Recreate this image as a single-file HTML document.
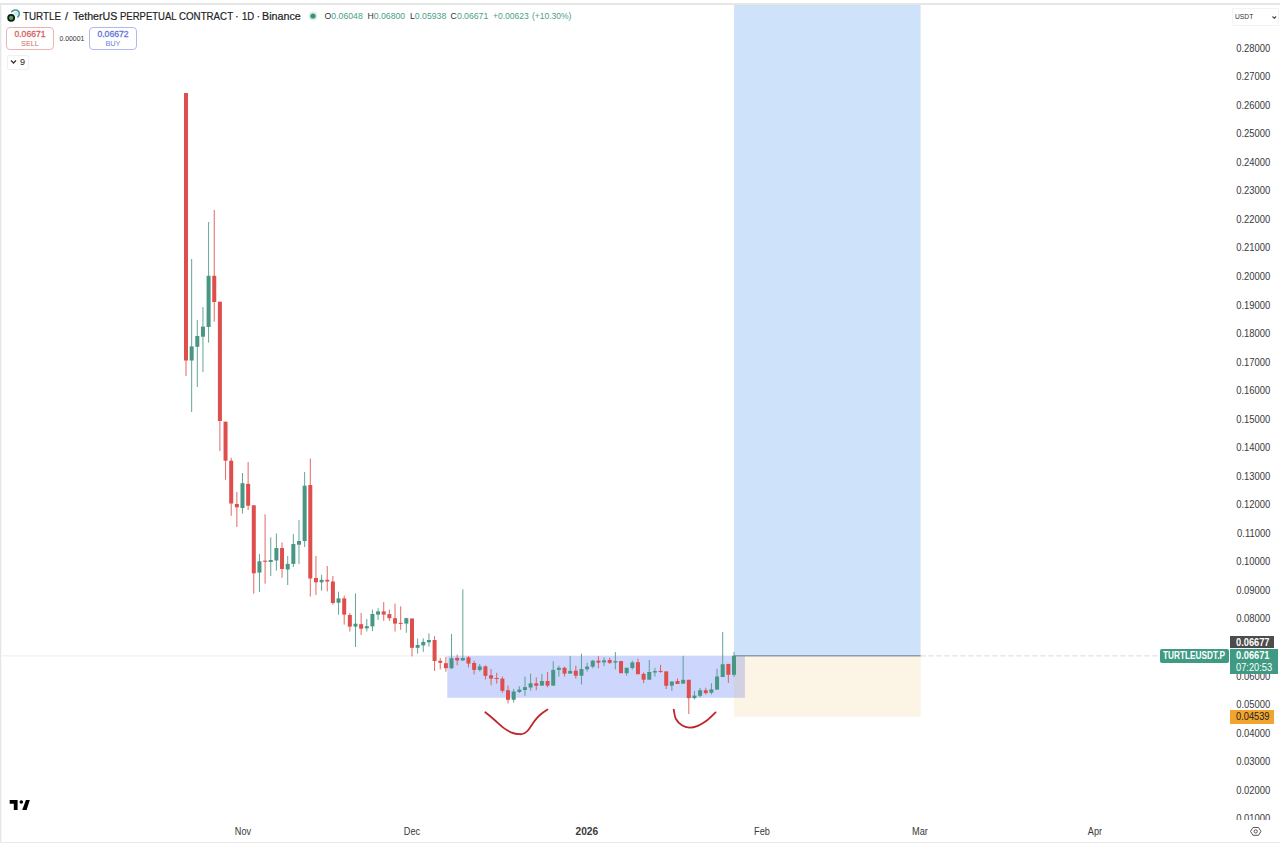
<!DOCTYPE html>
<html><head><meta charset="utf-8">
<style>
html,body{margin:0;padding:0;background:#fff;}
body{width:1280px;height:844px;overflow:hidden;position:relative;font-family:"Liberation Sans",sans-serif;color:#131722;}
.abs{position:absolute;}
#topline{position:absolute;left:0;top:3px;width:1280px;height:2px;background:#e6e6e6;}
#leftline{position:absolute;left:0;top:5px;width:2px;height:838px;background:linear-gradient(to right,#e6e6e6 50%,#f7f7f7 50%);}
#botline{position:absolute;left:0;top:842px;width:1280px;height:1px;background:#ebebeb;}
#chart{position:absolute;left:0;top:0;}
#paxis{position:absolute;left:1225px;top:0;width:55px;height:820px;overflow:hidden;}
.pl{position:absolute;right:10px;font-size:10.3px;line-height:12px;color:#3a3a3a;white-space:nowrap;transform:scaleX(0.915);transform-origin:100% 0;}
.tl{position:absolute;top:826px;font-size:10.2px;line-height:12px;color:#3a3a3a;white-space:nowrap;transform:translateX(-50%) scaleX(0.9);}
.tw{position:absolute;top:9px;font-size:11px;line-height:14px;color:#222;-webkit-text-stroke:0.2px #222;white-space:nowrap;transform-origin:0 0;}
.oh{position:absolute;top:10px;font-size:8.7px;line-height:12px;color:#4a9e8c;white-space:nowrap;}
.oh b{font-weight:normal;color:#333;}
.box{position:absolute;top:27.2px;height:22.8px;border:1px solid;border-radius:4px;text-align:center;font-size:8.5px;line-height:9.5px;box-sizing:border-box;padding-top:1px;}
.lbl{position:absolute;color:#fff;font-size:10.3px;line-height:12px;box-sizing:border-box;padding-left:0;}
.lbl span{display:block;margin-left:6px;transform:scaleX(0.9);transform-origin:0 0;white-space:nowrap;}
</style></head><body>
<svg id="chart" width="1280" height="844" viewBox="0 0 1280 844">
<!-- dashed price line -->
<line x1="0" y1="655.9" x2="734" y2="655.9" stroke="#eceeee" stroke-width="1"/>
<line x1="920" y1="655.9" x2="1160" y2="655.9" stroke="#dadede" stroke-width="1" stroke-dasharray="6 2"/>
<!-- long position -->
<rect x="734" y="5" width="186.6" height="650.6" fill="#cee3f9"/>
<!-- range box -->
<rect x="447.3" y="655.9" width="297.6" height="41.9" fill="#cdd6fc"/>
<rect x="734" y="655.6" width="186.6" height="61" fill="rgb(232,180,78)" fill-opacity="0.15"/>
<line x1="734" y1="655.8" x2="920.6" y2="655.8" stroke="#8b9dab" stroke-width="1.4"/>
<rect x="185.50" y="93.00" width="1" height="283.00" fill="#de4e4c" fill-opacity="0.85"/>
<rect x="184.00" y="93.00" width="4.0" height="267.50" fill="#de4e4c"/>
<rect x="191.15" y="259.00" width="1" height="153.00" fill="#489684" fill-opacity="0.85"/>
<rect x="189.65" y="346.40" width="4.0" height="14.10" fill="#489684"/>
<rect x="196.80" y="320.00" width="1" height="67.00" fill="#489684" fill-opacity="0.85"/>
<rect x="195.30" y="336.00" width="4.0" height="10.80" fill="#489684"/>
<rect x="202.45" y="307.00" width="1" height="65.00" fill="#489684" fill-opacity="0.85"/>
<rect x="200.95" y="326.60" width="4.0" height="10.10" fill="#489684"/>
<rect x="208.10" y="222.00" width="1" height="120.70" fill="#489684" fill-opacity="0.85"/>
<rect x="206.60" y="275.80" width="4.0" height="51.20" fill="#489684"/>
<rect x="213.75" y="210.00" width="1" height="111.60" fill="#de4e4c" fill-opacity="0.85"/>
<rect x="212.25" y="275.80" width="4.0" height="26.20" fill="#de4e4c"/>
<rect x="219.40" y="301.70" width="1" height="149.30" fill="#de4e4c" fill-opacity="0.85"/>
<rect x="217.90" y="301.70" width="4.0" height="119.30" fill="#de4e4c"/>
<rect x="225.05" y="421.70" width="1" height="58.10" fill="#de4e4c" fill-opacity="0.85"/>
<rect x="223.55" y="421.70" width="4.0" height="39.00" fill="#de4e4c"/>
<rect x="230.70" y="457.70" width="1" height="58.10" fill="#de4e4c" fill-opacity="0.85"/>
<rect x="229.20" y="460.70" width="4.0" height="42.80" fill="#de4e4c"/>
<rect x="236.35" y="492.00" width="1" height="35.00" fill="#de4e4c" fill-opacity="0.85"/>
<rect x="234.85" y="504.00" width="4.0" height="3.30" fill="#de4e4c"/>
<rect x="241.99" y="473.00" width="1" height="40.60" fill="#489684" fill-opacity="0.85"/>
<rect x="240.49" y="483.20" width="4.0" height="24.80" fill="#489684"/>
<rect x="247.64" y="462.00" width="1" height="48.00" fill="#de4e4c" fill-opacity="0.85"/>
<rect x="246.14" y="483.90" width="4.0" height="21.80" fill="#de4e4c"/>
<rect x="253.29" y="505.30" width="1" height="88.30" fill="#de4e4c" fill-opacity="0.85"/>
<rect x="251.79" y="505.30" width="4.0" height="68.00" fill="#de4e4c"/>
<rect x="258.94" y="554.00" width="1" height="38.00" fill="#489684" fill-opacity="0.85"/>
<rect x="257.44" y="561.30" width="4.0" height="11.30" fill="#489684"/>
<rect x="264.59" y="514.30" width="1" height="69.40" fill="#de4e4c" fill-opacity="0.85"/>
<rect x="263.09" y="560.70" width="4.0" height="1.10" fill="#de4e4c"/>
<rect x="270.24" y="537.30" width="1" height="38.70" fill="#489684" fill-opacity="0.85"/>
<rect x="268.74" y="560.00" width="4.0" height="2.00" fill="#489684"/>
<rect x="275.89" y="533.50" width="1" height="37.10" fill="#489684" fill-opacity="0.85"/>
<rect x="274.39" y="548.00" width="4.0" height="12.50" fill="#489684"/>
<rect x="281.54" y="542.50" width="1" height="35.30" fill="#de4e4c" fill-opacity="0.85"/>
<rect x="280.04" y="548.00" width="4.0" height="21.00" fill="#de4e4c"/>
<rect x="287.19" y="556.00" width="1" height="29.00" fill="#489684" fill-opacity="0.85"/>
<rect x="285.69" y="563.90" width="4.0" height="5.60" fill="#489684"/>
<rect x="292.84" y="534.00" width="1" height="33.00" fill="#489684" fill-opacity="0.85"/>
<rect x="291.34" y="544.00" width="4.0" height="19.90" fill="#489684"/>
<rect x="298.49" y="520.00" width="1" height="44.00" fill="#489684" fill-opacity="0.85"/>
<rect x="296.99" y="541.00" width="4.0" height="3.70" fill="#489684"/>
<rect x="304.14" y="472.00" width="1" height="75.00" fill="#489684" fill-opacity="0.85"/>
<rect x="302.64" y="485.70" width="4.0" height="55.30" fill="#489684"/>
<rect x="309.79" y="458.50" width="1" height="138.00" fill="#de4e4c" fill-opacity="0.85"/>
<rect x="308.29" y="485.00" width="4.0" height="93.50" fill="#de4e4c"/>
<rect x="315.44" y="556.00" width="1" height="39.00" fill="#de4e4c" fill-opacity="0.85"/>
<rect x="313.94" y="578.00" width="4.0" height="4.30" fill="#de4e4c"/>
<rect x="321.09" y="574.80" width="1" height="15.80" fill="#489684" fill-opacity="0.85"/>
<rect x="319.59" y="579.80" width="4.0" height="2.50" fill="#489684"/>
<rect x="326.74" y="566.00" width="1" height="25.40" fill="#de4e4c" fill-opacity="0.85"/>
<rect x="325.24" y="579.80" width="4.0" height="1.70" fill="#de4e4c"/>
<rect x="332.39" y="576.00" width="1" height="28.70" fill="#de4e4c" fill-opacity="0.85"/>
<rect x="330.89" y="581.50" width="4.0" height="21.50" fill="#de4e4c"/>
<rect x="338.04" y="591.70" width="1" height="22.90" fill="#489684" fill-opacity="0.85"/>
<rect x="336.54" y="598.40" width="4.0" height="4.30" fill="#489684"/>
<rect x="343.69" y="595.50" width="1" height="29.10" fill="#de4e4c" fill-opacity="0.85"/>
<rect x="342.19" y="598.40" width="4.0" height="16.20" fill="#de4e4c"/>
<rect x="349.34" y="613.00" width="1" height="18.50" fill="#de4e4c" fill-opacity="0.85"/>
<rect x="347.84" y="615.00" width="4.0" height="11.60" fill="#de4e4c"/>
<rect x="354.98" y="593.40" width="1" height="53.60" fill="#489684" fill-opacity="0.85"/>
<rect x="353.48" y="623.70" width="4.0" height="2.90" fill="#489684"/>
<rect x="360.63" y="613.00" width="1" height="21.90" fill="#de4e4c" fill-opacity="0.85"/>
<rect x="359.13" y="624.20" width="4.0" height="4.50" fill="#de4e4c"/>
<rect x="366.28" y="619.00" width="1" height="12.50" fill="#489684" fill-opacity="0.85"/>
<rect x="364.78" y="626.20" width="4.0" height="2.10" fill="#489684"/>
<rect x="371.93" y="609.60" width="1" height="21.60" fill="#489684" fill-opacity="0.85"/>
<rect x="370.43" y="614.00" width="4.0" height="12.40" fill="#489684"/>
<rect x="377.58" y="608.20" width="1" height="11.80" fill="#489684" fill-opacity="0.85"/>
<rect x="376.08" y="611.40" width="4.0" height="3.20" fill="#489684"/>
<rect x="383.23" y="602.00" width="1" height="18.90" fill="#de4e4c" fill-opacity="0.85"/>
<rect x="381.73" y="611.40" width="4.0" height="3.20" fill="#de4e4c"/>
<rect x="388.88" y="609.60" width="1" height="11.30" fill="#de4e4c" fill-opacity="0.85"/>
<rect x="387.38" y="614.10" width="4.0" height="4.10" fill="#de4e4c"/>
<rect x="394.53" y="603.70" width="1" height="27.80" fill="#de4e4c" fill-opacity="0.85"/>
<rect x="393.03" y="618.20" width="4.0" height="5.40" fill="#de4e4c"/>
<rect x="400.18" y="606.30" width="1" height="23.50" fill="#de4e4c" fill-opacity="0.85"/>
<rect x="398.68" y="622.90" width="4.0" height="1.00" fill="#de4e4c"/>
<rect x="405.83" y="617.70" width="1" height="15.00" fill="#489684" fill-opacity="0.85"/>
<rect x="404.33" y="618.20" width="4.0" height="5.40" fill="#489684"/>
<rect x="411.48" y="618.50" width="1" height="37.90" fill="#de4e4c" fill-opacity="0.85"/>
<rect x="409.98" y="618.50" width="4.0" height="29.30" fill="#de4e4c"/>
<rect x="417.13" y="638.60" width="1" height="14.90" fill="#489684" fill-opacity="0.85"/>
<rect x="415.63" y="645.00" width="4.0" height="2.80" fill="#489684"/>
<rect x="422.78" y="638.30" width="1" height="13.50" fill="#489684" fill-opacity="0.85"/>
<rect x="421.28" y="641.90" width="4.0" height="3.50" fill="#489684"/>
<rect x="428.43" y="633.30" width="1" height="13.30" fill="#489684" fill-opacity="0.85"/>
<rect x="426.93" y="640.00" width="4.0" height="2.30" fill="#489684"/>
<rect x="434.08" y="636.20" width="1" height="34.80" fill="#de4e4c" fill-opacity="0.85"/>
<rect x="432.58" y="640.00" width="4.0" height="21.00" fill="#de4e4c"/>
<rect x="439.73" y="658.00" width="1" height="11.30" fill="#de4e4c" fill-opacity="0.85"/>
<rect x="438.23" y="660.80" width="4.0" height="2.00" fill="#de4e4c"/>
<rect x="445.38" y="656.80" width="1" height="14.90" fill="#de4e4c" fill-opacity="0.85"/>
<rect x="443.88" y="663.20" width="4.0" height="5.00" fill="#de4e4c"/>
<rect x="451.03" y="634.00" width="1" height="35.00" fill="#489684" fill-opacity="0.85"/>
<rect x="449.53" y="658.20" width="4.0" height="10.00" fill="#489684"/>
<rect x="456.68" y="654.70" width="1" height="10.60" fill="#de4e4c" fill-opacity="0.85"/>
<rect x="455.18" y="658.00" width="4.0" height="2.40" fill="#de4e4c"/>
<rect x="462.32" y="589.20" width="1" height="71.80" fill="#489684" fill-opacity="0.85"/>
<rect x="460.82" y="658.00" width="4.0" height="2.40" fill="#489684"/>
<rect x="467.97" y="656.20" width="1" height="11.20" fill="#de4e4c" fill-opacity="0.85"/>
<rect x="466.47" y="657.40" width="4.0" height="6.20" fill="#de4e4c"/>
<rect x="473.62" y="660.70" width="1" height="13.70" fill="#de4e4c" fill-opacity="0.85"/>
<rect x="472.12" y="663.00" width="4.0" height="6.90" fill="#de4e4c"/>
<rect x="479.27" y="664.00" width="1" height="7.50" fill="#489684" fill-opacity="0.85"/>
<rect x="477.77" y="666.40" width="4.0" height="3.50" fill="#489684"/>
<rect x="484.92" y="665.30" width="1" height="14.10" fill="#de4e4c" fill-opacity="0.85"/>
<rect x="483.42" y="666.40" width="4.0" height="9.40" fill="#de4e4c"/>
<rect x="490.57" y="669.00" width="1" height="16.20" fill="#de4e4c" fill-opacity="0.85"/>
<rect x="489.07" y="675.30" width="4.0" height="3.30" fill="#de4e4c"/>
<rect x="496.22" y="672.80" width="1" height="10.80" fill="#de4e4c" fill-opacity="0.85"/>
<rect x="494.72" y="678.00" width="4.0" height="1.00" fill="#de4e4c"/>
<rect x="501.87" y="676.50" width="1" height="16.20" fill="#de4e4c" fill-opacity="0.85"/>
<rect x="500.37" y="678.60" width="4.0" height="12.20" fill="#de4e4c"/>
<rect x="507.52" y="685.60" width="1" height="17.90" fill="#de4e4c" fill-opacity="0.85"/>
<rect x="506.02" y="690.20" width="4.0" height="9.60" fill="#de4e4c"/>
<rect x="513.17" y="688.80" width="1" height="13.90" fill="#489684" fill-opacity="0.85"/>
<rect x="511.67" y="691.50" width="4.0" height="8.30" fill="#489684"/>
<rect x="518.82" y="686.30" width="1" height="6.70" fill="#489684" fill-opacity="0.85"/>
<rect x="517.32" y="689.60" width="4.0" height="2.30" fill="#489684"/>
<rect x="524.47" y="676.50" width="1" height="19.30" fill="#489684" fill-opacity="0.85"/>
<rect x="522.97" y="687.10" width="4.0" height="2.90" fill="#489684"/>
<rect x="530.12" y="673.60" width="1" height="17.20" fill="#489684" fill-opacity="0.85"/>
<rect x="528.62" y="683.30" width="4.0" height="4.20" fill="#489684"/>
<rect x="535.77" y="677.30" width="1" height="12.90" fill="#de4e4c" fill-opacity="0.85"/>
<rect x="534.27" y="683.30" width="4.0" height="2.50" fill="#de4e4c"/>
<rect x="541.42" y="673.90" width="1" height="11.70" fill="#489684" fill-opacity="0.85"/>
<rect x="539.92" y="681.00" width="4.0" height="4.60" fill="#489684"/>
<rect x="547.07" y="672.00" width="1" height="15.30" fill="#de4e4c" fill-opacity="0.85"/>
<rect x="545.57" y="681.00" width="4.0" height="4.60" fill="#de4e4c"/>
<rect x="552.72" y="661.20" width="1" height="24.40" fill="#489684" fill-opacity="0.85"/>
<rect x="551.22" y="669.90" width="4.0" height="15.70" fill="#489684"/>
<rect x="558.37" y="665.70" width="1" height="10.80" fill="#489684" fill-opacity="0.85"/>
<rect x="556.87" y="667.80" width="4.0" height="2.10" fill="#489684"/>
<rect x="564.02" y="666.60" width="1" height="9.90" fill="#de4e4c" fill-opacity="0.85"/>
<rect x="562.52" y="667.80" width="4.0" height="5.80" fill="#de4e4c"/>
<rect x="569.66" y="656.20" width="1" height="17.40" fill="#489684" fill-opacity="0.85"/>
<rect x="568.16" y="670.90" width="4.0" height="2.70" fill="#489684"/>
<rect x="575.31" y="665.70" width="1" height="12.90" fill="#de4e4c" fill-opacity="0.85"/>
<rect x="573.81" y="670.70" width="4.0" height="5.00" fill="#de4e4c"/>
<rect x="580.96" y="653.70" width="1" height="30.70" fill="#489684" fill-opacity="0.85"/>
<rect x="579.46" y="669.00" width="4.0" height="6.70" fill="#489684"/>
<rect x="586.61" y="662.80" width="1" height="8.70" fill="#489684" fill-opacity="0.85"/>
<rect x="585.11" y="666.60" width="4.0" height="2.60" fill="#489684"/>
<rect x="592.26" y="660.00" width="1" height="8.20" fill="#489684" fill-opacity="0.85"/>
<rect x="590.76" y="660.70" width="4.0" height="6.00" fill="#489684"/>
<rect x="597.91" y="656.20" width="1" height="12.00" fill="#de4e4c" fill-opacity="0.85"/>
<rect x="596.41" y="660.70" width="4.0" height="1.90" fill="#de4e4c"/>
<rect x="603.56" y="657.40" width="1" height="8.70" fill="#489684" fill-opacity="0.85"/>
<rect x="602.06" y="660.30" width="4.0" height="2.10" fill="#489684"/>
<rect x="609.21" y="657.80" width="1" height="6.20" fill="#de4e4c" fill-opacity="0.85"/>
<rect x="607.71" y="660.00" width="4.0" height="2.80" fill="#de4e4c"/>
<rect x="614.86" y="652.00" width="1" height="17.50" fill="#489684" fill-opacity="0.85"/>
<rect x="613.36" y="661.20" width="4.0" height="1.40" fill="#489684"/>
<rect x="620.51" y="661.00" width="1" height="12.20" fill="#de4e4c" fill-opacity="0.85"/>
<rect x="619.01" y="661.00" width="4.0" height="12.20" fill="#de4e4c"/>
<rect x="626.16" y="667.80" width="1" height="7.90" fill="#489684" fill-opacity="0.85"/>
<rect x="624.66" y="667.80" width="4.0" height="5.40" fill="#489684"/>
<rect x="631.81" y="660.70" width="1" height="8.80" fill="#489684" fill-opacity="0.85"/>
<rect x="630.31" y="662.40" width="4.0" height="5.60" fill="#489684"/>
<rect x="637.46" y="658.70" width="1" height="15.50" fill="#de4e4c" fill-opacity="0.85"/>
<rect x="635.96" y="662.20" width="4.0" height="12.00" fill="#de4e4c"/>
<rect x="643.11" y="672.40" width="1" height="10.80" fill="#de4e4c" fill-opacity="0.85"/>
<rect x="641.61" y="673.90" width="4.0" height="5.80" fill="#de4e4c"/>
<rect x="648.76" y="660.00" width="1" height="19.70" fill="#489684" fill-opacity="0.85"/>
<rect x="647.26" y="672.00" width="4.0" height="7.70" fill="#489684"/>
<rect x="654.41" y="667.80" width="1" height="8.70" fill="#489684" fill-opacity="0.85"/>
<rect x="652.91" y="671.10" width="4.0" height="1.40" fill="#489684"/>
<rect x="660.06" y="664.90" width="1" height="7.90" fill="#de4e4c" fill-opacity="0.85"/>
<rect x="658.56" y="670.90" width="4.0" height="1.00" fill="#de4e4c"/>
<rect x="665.71" y="671.40" width="1" height="17.60" fill="#de4e4c" fill-opacity="0.85"/>
<rect x="664.21" y="671.40" width="4.0" height="14.40" fill="#de4e4c"/>
<rect x="671.36" y="681.50" width="1" height="9.30" fill="#489684" fill-opacity="0.85"/>
<rect x="669.86" y="681.50" width="4.0" height="4.10" fill="#489684"/>
<rect x="677.01" y="678.60" width="1" height="5.40" fill="#de4e4c" fill-opacity="0.85"/>
<rect x="675.51" y="681.00" width="4.0" height="3.00" fill="#de4e4c"/>
<rect x="682.65" y="655.80" width="1" height="27.80" fill="#489684" fill-opacity="0.85"/>
<rect x="681.15" y="679.80" width="4.0" height="3.80" fill="#489684"/>
<rect x="688.30" y="679.80" width="1" height="34.20" fill="#de4e4c" fill-opacity="0.85"/>
<rect x="686.80" y="679.80" width="4.0" height="18.30" fill="#de4e4c"/>
<rect x="693.95" y="691.00" width="1" height="8.30" fill="#489684" fill-opacity="0.85"/>
<rect x="692.45" y="695.60" width="4.0" height="2.50" fill="#489684"/>
<rect x="699.60" y="688.00" width="1" height="9.30" fill="#489684" fill-opacity="0.85"/>
<rect x="698.10" y="690.20" width="4.0" height="5.60" fill="#489684"/>
<rect x="705.25" y="687.70" width="1" height="6.70" fill="#de4e4c" fill-opacity="0.85"/>
<rect x="703.75" y="690.20" width="4.0" height="2.90" fill="#de4e4c"/>
<rect x="710.90" y="683.30" width="1" height="11.10" fill="#489684" fill-opacity="0.85"/>
<rect x="709.40" y="689.40" width="4.0" height="3.30" fill="#489684"/>
<rect x="716.55" y="668.80" width="1" height="20.80" fill="#489684" fill-opacity="0.85"/>
<rect x="715.05" y="676.50" width="4.0" height="13.10" fill="#489684"/>
<rect x="722.20" y="631.90" width="1" height="45.10" fill="#489684" fill-opacity="0.85"/>
<rect x="720.70" y="664.30" width="4.0" height="12.70" fill="#489684"/>
<rect x="727.85" y="663.90" width="1" height="19.00" fill="#de4e4c" fill-opacity="0.85"/>
<rect x="726.35" y="663.90" width="4.0" height="10.90" fill="#de4e4c"/>
<rect x="733.50" y="652.00" width="1" height="25.00" fill="#489684" fill-opacity="0.85"/>
<rect x="732.00" y="655.80" width="4.0" height="19.00" fill="#489684"/>
<!-- hand drawn curves -->
<path d="M485.3 712.3 C486.8 713.5 490.9 716.9 494.0 719.5 C497.1 722.1 500.8 725.8 503.6 727.9 C506.4 730.0 508.4 731.2 511.0 732.3 C513.6 733.3 517.2 734.1 519.5 734.2 C521.8 734.4 523.0 733.9 524.5 733.2 C526.0 732.5 526.8 731.9 528.5 729.8 C530.2 727.7 532.8 723.1 534.8 720.6 C536.8 718.1 538.4 716.3 540.5 714.5 C542.6 712.7 546.2 710.4 547.4 709.6" fill="none" stroke="#bf262b" stroke-width="1.8" stroke-linecap="round" stroke-linejoin="round"/>
<path d="M673.7 709.6 C674.1 711.1 674.4 716.1 675.8 718.7 C677.2 721.3 679.6 723.8 681.9 725.3 C684.2 726.8 686.8 727.5 689.4 727.6 C692.0 727.7 694.8 727.0 697.8 725.8 C700.8 724.6 704.2 722.4 707.2 720.2 C710.2 718.0 714.2 713.7 715.6 712.4" fill="none" stroke="#bf262b" stroke-width="1.8" stroke-linecap="round" stroke-linejoin="round"/>
<!-- TV logo -->
<g fill="#000">
<path d="M9.7 800 H17.6 V810 H13.8 V803.8 H9.7 Z"/>
<circle cx="21.3" cy="802" r="1.8"/>
<path d="M25.9 800 H29.8 L26.6 810 H22.2 Z"/>
</g>
<!-- gear -->
<g fill="none" stroke="#555" stroke-width="1">
<path d="M1253 827.5 H1258.5 L1261 831.4 L1258.5 835.3 H1253 L1250.5 831.4 Z"/>
<circle cx="1255.7" cy="831.4" r="1.6"/>
</g>
</svg>
<div id="topline"></div>
<div id="leftline"></div>
<div id="botline"></div>

<div id="paxis">
<div class="pl" style="top:813.19px">0.01000</div>
<div class="pl" style="top:784.65px">0.02000</div>
<div class="pl" style="top:756.12px">0.03000</div>
<div class="pl" style="top:727.58px">0.04000</div>
<div class="pl" style="top:699.05px">0.05000</div>
<div class="pl" style="top:670.51px">0.06000</div>
<div class="pl" style="top:613.44px">0.08000</div>
<div class="pl" style="top:584.91px">0.09000</div>
<div class="pl" style="top:556.37px">0.10000</div>
<div class="pl" style="top:527.84px">0.11000</div>
<div class="pl" style="top:499.30px">0.12000</div>
<div class="pl" style="top:470.77px">0.13000</div>
<div class="pl" style="top:442.23px">0.14000</div>
<div class="pl" style="top:413.69px">0.15000</div>
<div class="pl" style="top:385.16px">0.16000</div>
<div class="pl" style="top:356.62px">0.17000</div>
<div class="pl" style="top:328.09px">0.18000</div>
<div class="pl" style="top:299.56px">0.19000</div>
<div class="pl" style="top:271.02px">0.20000</div>
<div class="pl" style="top:242.49px">0.21000</div>
<div class="pl" style="top:213.95px">0.22000</div>
<div class="pl" style="top:185.42px">0.23000</div>
<div class="pl" style="top:156.88px">0.24000</div>
<div class="pl" style="top:128.34px">0.25000</div>
<div class="pl" style="top:99.81px">0.26000</div>
<div class="pl" style="top:71.28px">0.27000</div>
<div class="pl" style="top:42.74px">0.28000</div>
</div>

<!-- time axis -->
<div class="tl" style="left:242.5px">Nov</div>
<div class="tl" style="left:411.7px">Dec</div>
<div class="tl" style="left:586.8px;font-weight:bold;transform:translateX(-50%)">2026</div>
<div class="tl" style="left:762px">Feb</div>
<div class="tl" style="left:920px">Mar</div>
<div class="tl" style="left:1095px">Apr</div>

<!-- header -->
<svg class="abs" style="left:6px;top:8px" width="16" height="16" viewBox="0 0 16 16">
<circle cx="10.2" cy="5.4" r="2" fill="#c4eeee"/>
<path d="M5.7 3.7 C 7.5 1.8, 10.6 1.4, 12.3 3.1 C 13.8 4.6, 13.6 7.2, 11.8 8.9" fill="none" stroke="#4b9a9c" stroke-width="1.6" stroke-linecap="round"/>
<circle cx="5.15" cy="9.85" r="3.9" fill="#0e1a10"/>
<circle cx="5.15" cy="9.85" r="2.2" fill="#5e9c5e"/>
</svg>
<div class="tw" style="left:23.2px;transform:scaleX(0.895)">TURTLE</div>
<div class="tw" style="left:64.9px;transform:scaleX(1.0)">/</div>
<div class="tw" style="left:72.5px;transform:scaleX(0.965)">TetherUS</div>
<div class="tw" style="left:120.0px;transform:scaleX(0.864)">PERPETUAL</div>
<div class="tw" style="left:179.2px;transform:scaleX(0.885)">CONTRACT</div>
<div class="tw" style="left:234.9px;transform:scaleX(1.0)">·</div>
<div class="tw" style="left:241.6px;transform:scaleX(0.87)">1D</div>
<div class="tw" style="left:256.6px;transform:scaleX(1.0)">·</div>
<div class="tw" style="left:261.9px;transform:scaleX(0.975)">Binance</div>
<svg class="abs" style="left:308px;top:11px" width="10" height="10"><circle cx="5" cy="5" r="4.5" fill="#d8efe9"/><circle cx="5" cy="5" r="2.6" fill="#3d8f7c"/></svg>
<div class="oh" style="left:324.6px"><b>O</b>0.06048</div>
<div class="oh" style="left:367.5px"><b>H</b>0.06800</div>
<div class="oh" style="left:410px"><b>L</b>0.05938</div>
<div class="oh" style="left:450.6px"><b>C</b>0.06671</div>
<div class="oh" style="left:493px;font-size:8.5px">+0.00623</div>
<div class="oh" style="left:532px;font-size:8.5px">(+10.30%)</div>

<div class="box" style="left:6px;width:48px;border-color:#e8b4b4;color:#d46262;"><div style="-webkit-text-stroke:0.3px #d46262;font-size:8.6px;line-height:10px">0.06671</div><div style="font-size:7.3px;line-height:9.5px;color:#cf6f6f">SELL</div></div>
<div class="abs" style="left:59.4px;top:34px;font-size:6.9px;line-height:10px;color:#333;">0.00001</div>
<div class="box" style="left:89px;width:48px;border-color:#b0b8ec;color:#6474d8;"><div style="-webkit-text-stroke:0.3px #6474d8;font-size:8.6px;line-height:10px">0.06672</div><div style="font-size:7.3px;line-height:9.5px;color:#6f7fdc">BUY</div></div>

<div class="abs" style="left:7px;top:55px;width:22px;height:15px;border:1px solid #f0f0f0;border-radius:2px;box-sizing:border-box;"></div>
<svg class="abs" style="left:10px;top:59px" width="8" height="6"><path d="M1 1.5 L3.5 4 L6 1.5" fill="none" stroke="#333" stroke-width="1.3"/></svg>
<div class="abs" style="left:20px;top:57px;font-size:9px;line-height:11px;color:#222;">9</div>

<!-- USDT -->
<div class="abs" style="left:1232px;top:8px;width:46.5px;height:17.5px;border:1px solid #f3f3f3;box-sizing:border-box;"></div>
<div class="abs" style="left:1234.8px;top:12px;font-size:7.8px;line-height:10px;color:#333;transform:scaleX(0.86);transform-origin:0 0;">USDT</div>
<svg class="abs" style="left:1271.5px;top:15.5px" width="5" height="3"><path d="M0.5 0.5 L2.3 2.3 L4.1 0.5" fill="none" stroke="#444" stroke-width="1.1"/></svg>

<!-- price labels -->
<div class="lbl" style="left:1229.8px;top:635.6px;width:44.2px;height:12.4px;background:#4c4c4c;line-height:12.8px;padding-top:1px;font-weight:bold;"><span>0.06677</span></div>
<div class="lbl" style="left:1229.8px;top:649px;width:48px;height:24.7px;background:#3f9a83;line-height:11.6px;padding-top:1px;font-weight:bold;"><span>0.06671</span><span style="font-weight:normal">07:20:53</span></div>
<div class="lbl" style="left:1160.2px;top:649px;width:68.7px;height:13.8px;border-radius:2px;background:#3f9a83;line-height:13.8px;padding-left:0;"><span style="margin-left:3px;font-size:10.4px;font-weight:bold;transform:scaleX(0.795);">TURTLEUSDT.P</span></div>
<div class="lbl" style="left:1229.8px;top:710px;width:43.8px;height:13.6px;background:#f2a52e;color:#222;line-height:13.8px;"><span>0.04539</span></div>
</body></html>
